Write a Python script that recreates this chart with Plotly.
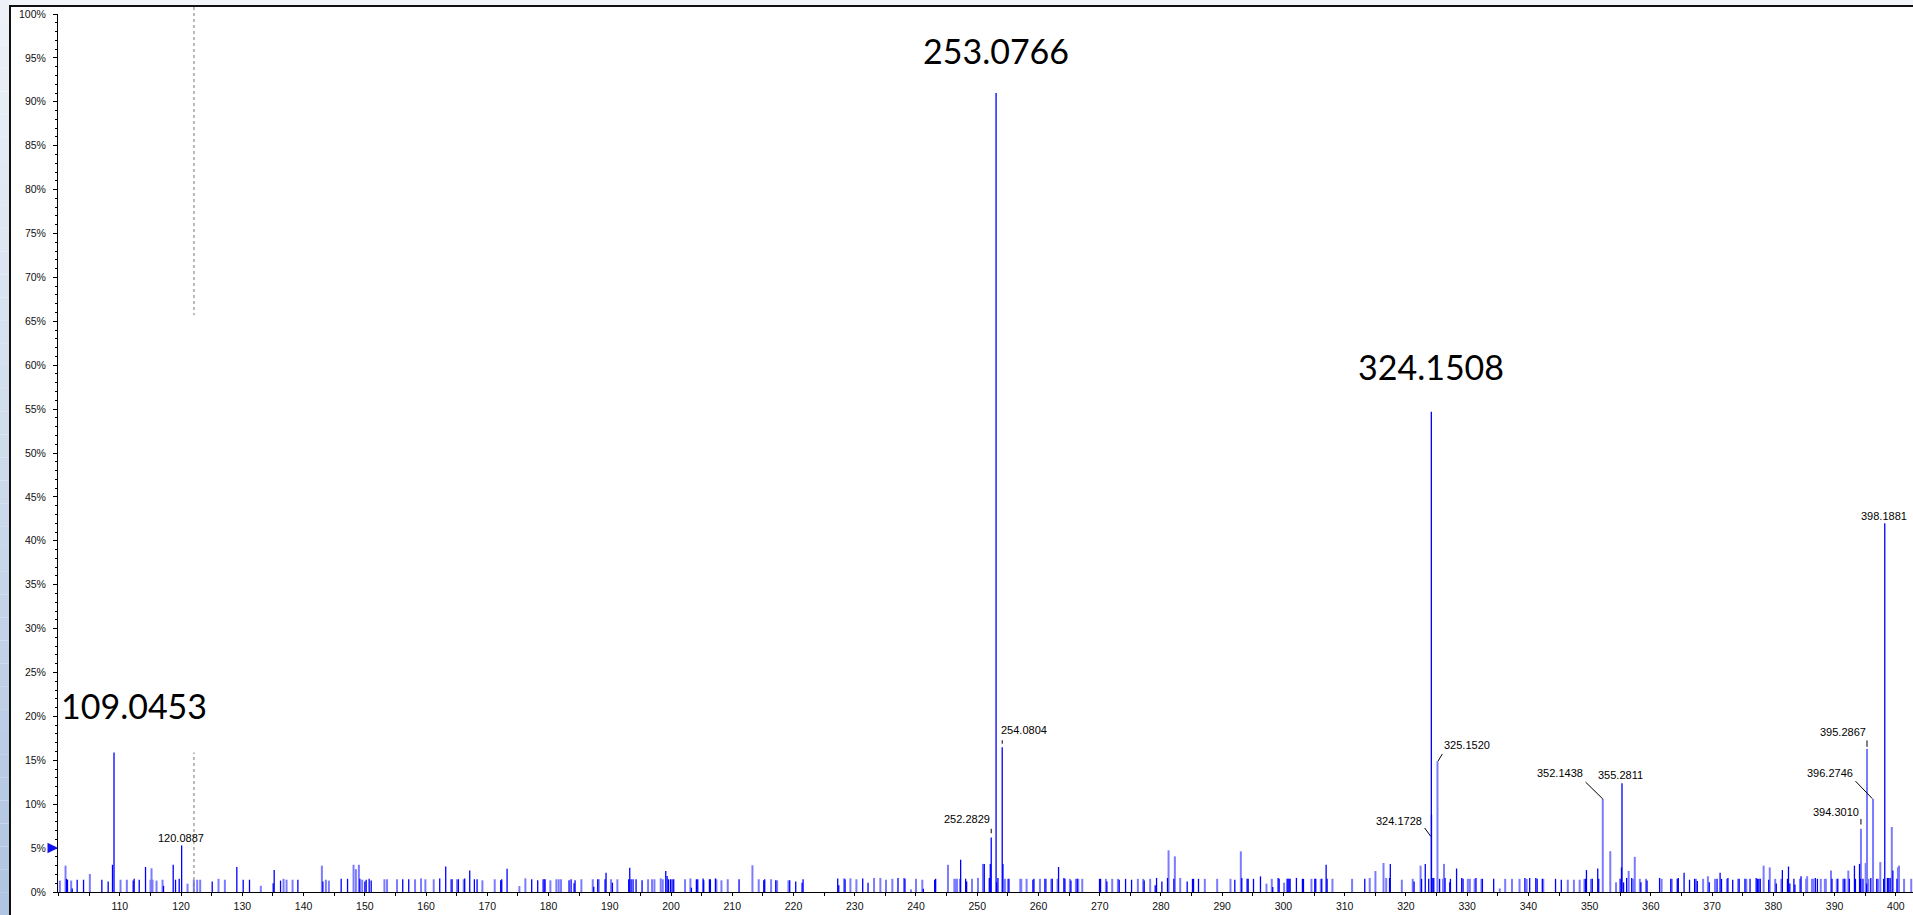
import plotly.graph_objects as go

# ---- centroid sticks: m/z and relative intensity (%) ----
dark_mz = [
    101.29, 101.45, 102.22, 103.03, 104.07, 107.06, 108.09, 108.80, 112.18, 112.34,
    113.16, 114.19, 117.13, 118.71, 119.09, 119.69, 125.08, 129.10, 130.14, 131.17,
    135.04, 135.20, 136.24, 139.07, 143.15, 146.14, 147.18, 149.19, 150.01, 150.22,
    150.71, 151.04, 156.19, 157.17, 162.23, 163.21, 164.25, 165.28, 166.31, 167.13,
    167.89, 168.33, 172.19, 172.36, 173.23, 177.25, 178.23, 179.27, 179.43, 183.35,
    183.68, 184.17, 184.33, 187.38, 188.03, 189.23, 189.39, 190.43, 193.09, 193.26,
    193.48, 193.80, 194.29, 195.27, 199.14, 199.36, 199.57, 199.90, 200.17, 200.44,
    203.33, 204.14, 204.36, 205.23, 205.34, 206.27, 206.43, 207.25, 211.11, 215.14,
    215.30, 217.10, 219.38, 220.36, 221.40, 221.56, 227.22, 227.39, 228.42, 231.30,
    232.17, 237.06, 238.20, 241.20, 243.05, 243.21, 247.29, 248.11, 248.27, 251.15,
    251.97, 252.13, 253.17, 253.38, 254.20, 255.18, 259.09, 259.26, 261.05, 262.25,
    263.28, 264.15, 264.32, 265.30, 266.33, 269.97, 270.14, 271.17, 273.18, 274.22,
    275.20, 277.26, 279.06, 279.28, 280.15, 281.07, 282.11, 284.28, 285.15, 285.32,
    286.13, 292.06, 293.20, 294.07, 294.24, 295.11, 296.25, 298.26, 299.13, 299.30,
    300.60, 300.76, 300.93, 301.09, 302.12, 303.10, 303.27, 305.12, 305.28, 306.26,
    306.97, 307.13, 313.28, 317.33, 317.45, 321.33, 322.55, 323.16, 323.72, 324.39,
    324.55, 325.50, 326.39, 327.16, 327.27, 328.27, 329.11, 329.33, 331.44, 332.49,
    334.33, 339.43, 340.21, 341.21, 341.43, 342.27, 344.43, 345.37, 349.32, 349.48,
    350.43, 351.32, 351.48, 354.98, 355.20, 355.54, 356.04, 356.87, 358.37, 359.37,
    361.42, 363.25, 364.31, 364.48, 365.42, 366.31, 367.14, 367.58, 369.53, 370.80,
    371.30, 371.53, 372.58, 373.36, 374.41, 375.36, 376.19, 377.19, 377.41, 377.63,
    377.86, 379.24, 380.47, 381.47, 382.30, 382.47, 382.69, 383.35, 383.52, 384.52,
    386.85, 387.19, 389.57, 390.52, 391.57, 392.40, 393.24, 393.40, 394.07, 394.24,
    394.63, 395.24, 395.91, 396.88, 398.01, 398.62, 398.84, 399.07, 399.51, 400.18,
]
dark_pct = [
    1.5, 1.4, 0.4, 1.4, 1.4, 1.4, 1.2, 3.1, 1.3, 1.5,
    1.4, 2.85, 0.7, 3.1, 1.4, 1.5, 1.2, 2.85, 1.4, 1.4,
    1.0, 2.5, 1.3, 1.4, 1.2, 1.5, 1.5, 1.5, 1.2, 1.4,
    1.5, 1.3, 1.45, 1.45, 1.55, 2.9, 1.45, 1.45, 1.55, 2.45,
    1.45, 1.45, 1.33, 1.45, 2.66, 1.45, 1.33, 1.45, 1.45, 1.33,
    1.45, 0.99, 1.33, 0.61, 1.45, 1.45, 2.2, 1.06, 1.45, 2.77,
    1.45, 1.45, 1.45, 1.33, 2.4, 1.82, 1.45, 1.45, 1.45, 1.45,
    0.49, 1.45, 1.45, 1.55, 1.33, 1.45, 1.45, 1.55, 1.45, 1.33,
    1.45, 1.33, 1.33, 1.21, 1.06, 1.45, 1.55, 0.76, 1.45, 1.55,
    1.06, 1.6, 1.5, 0.38, 1.4, 1.5, 3.68, 1.5, 1.2, 3.2,
    1.6, 3.2, 1.1, 1.6, 3.2, 1.5, 1.4, 1.5, 1.5, 1.5,
    2.85, 1.6, 1.5, 1.3, 1.5, 1.5, 1.5, 1.2, 1.4, 1.5,
    1.4, 1.3, 0.76, 1.6, 1.2, 1.6, 1.5, 1.2, 1.5, 1.5,
    1.5, 1.4, 1.6, 1.5, 1.5, 1.5, 1.78, 0.57, 1.6, 1.5,
    1.5, 1.5, 1.5, 1.5, 1.6, 1.5, 1.5, 1.5, 1.5, 1.5,
    3.11, 1.5, 1.5, 1.6, 3.2, 1.2, 1.5, 3.2, 1.5, 1.6,
    1.6, 1.5, 1.6, 1.1, 1.5, 2.67, 1.6, 1.5, 1.6, 1.5,
    1.5, 1.6, 1.6, 1.6, 1.5, 1.5, 1.5, 1.4, 1.5, 2.5,
    1.5, 2.67, 1.5, 1.5, 2.8, 1.1, 1.6, 1.6, 1.1, 1.3,
    1.6, 1.5, 1.5, 1.6, 2.2, 1.4, 1.5, 1.24, 1.1, 1.5,
    2.2, 1.5, 1.6, 1.4, 1.5, 1.5, 1.5, 1.6, 1.5, 1.5,
    1.5, 1.4, 0.97, 2.5, 1.5, 2.9, 0.97, 1.5, 0.85, 1.8,
    1.6, 1.5, 1.5, 1.5, 1.5, 1.5, 3.0, 1.5, 3.2, 1.5,
    1.5, 0.97, 1.6, 1.5, 1.5, 1.6, 1.6, 1.6, 2.44, 1.5,
]

light_mz = [
    100.20, 101.13, 102.05, 105.10, 110.11, 111.14, 115.01, 115.17, 115.33, 115.99,
    116.97, 121.05, 122.08, 122.63, 123.12, 126.11, 127.15, 133.02, 136.73, 137.22,
    138.20, 142.99, 143.64, 144.13, 148.16, 148.54, 149.03, 149.57, 153.20, 153.63,
    155.26, 158.20, 159.18, 159.89, 161.25, 164.08, 165.06, 166.15, 169.20, 171.21,
    175.24, 176.22, 179.10, 180.30, 181.28, 181.66, 182.04, 185.36, 187.22, 188.20,
    190.21, 191.24, 196.25, 196.90, 197.29, 198.32, 198.65, 202.29, 203.16, 207.41,
    208.23, 209.26, 213.29, 214.32, 216.34, 217.32, 219.17, 228.26, 229.29, 230.27,
    233.15, 234.18, 235.10, 236.14, 238.04, 239.18, 240.00, 241.03, 245.22, 246.26,
    246.47, 246.69, 247.18, 249.14, 250.12, 250.93, 254.52, 255.01, 257.03, 257.19,
    258.06, 260.24, 261.22, 262.09, 263.12, 265.13, 266.11, 266.49, 267.15, 271.01,
    272.04, 272.97, 276.23, 277.10, 278.24, 281.24, 282.27, 283.14, 287.16, 289.18,
    291.35, 293.04, 297.23, 298.10, 300.11, 304.57, 306.10, 308.00, 311.21, 314.09,
    315.02, 316.34, 316.78, 319.33, 321.11, 322.39, 326.05, 326.22, 330.11, 330.44,
    331.22, 332.33, 335.32, 336.21, 337.32, 338.55, 339.71, 342.43, 346.43, 347.43,
    348.37, 349.15, 350.21, 353.37, 354.31, 356.37, 357.15, 357.37, 358.20, 359.20,
    361.75, 363.42, 367.36, 368.53, 369.31, 370.47, 372.42, 374.25, 375.58, 378.41,
    379.41, 380.30, 381.30, 384.35, 385.35, 385.52, 386.30, 386.52, 387.74, 388.41,
    388.57, 389.41, 390.35, 391.40, 391.74, 392.24, 395.07, 395.52, 397.10, 397.46,
    399.34, 400.34, 400.51, 401.34, 402.51,
]
light_pct = [
    1.3, 3.0, 1.3, 2.05, 1.4, 1.4, 1.4, 2.7, 1.4, 1.3,
    1.4, 0.95, 1.4, 1.4, 1.4, 1.5, 1.4, 0.7, 1.5, 1.4,
    1.4, 3.0, 1.4, 1.3, 3.1, 2.6, 3.1, 1.4, 1.45, 1.45,
    1.45, 1.45, 1.55, 1.45, 1.45, 1.45, 1.45, 1.45, 1.33, 1.45,
    0.68, 1.55, 1.45, 1.33, 1.45, 1.45, 1.45, 1.45, 1.45, 1.45,
    1.45, 1.45, 1.45, 1.45, 1.45, 1.55, 1.45, 1.45, 1.55, 1.45,
    1.33, 1.45, 3.04, 1.45, 1.45, 1.33, 1.33, 1.55, 1.55, 1.45,
    1.6, 1.6, 1.4, 1.5, 1.6, 0.3, 1.5, 1.4, 3.1, 1.5,
    1.5, 1.5, 1.5, 1.5, 1.6, 3.2, 1.5, 1.5, 1.5, 1.5,
    1.5, 1.5, 1.5, 1.5, 1.5, 1.5, 1.5, 1.5, 1.5, 1.5,
    1.5, 1.5, 1.5, 1.5, 1.5, 4.75, 4.06, 1.6, 1.5, 1.5,
    1.5, 4.63, 0.95, 1.5, 1.06, 1.5, 1.5, 1.5, 1.5, 1.6,
    2.39, 3.3, 1.6, 1.4, 1.5, 3.0, 1.5, 3.2, 1.5, 1.5,
    1.5, 1.5, 0.4, 1.5, 1.5, 1.5, 1.5, 1.5, 1.4, 1.4,
    1.4, 1.5, 1.5, 4.65, 1.1, 2.4, 1.5, 4.0, 1.5, 1.5,
    1.5, 1.5, 1.5, 1.5, 1.8, 1.5, 1.5, 1.5, 1.5, 3.0,
    2.8, 1.5, 1.5, 1.5, 1.5, 1.8, 1.5, 1.5, 1.5, 1.5,
    1.5, 2.44, 1.5, 1.5, 1.5, 2.44, 3.3, 1.5, 1.5, 3.4,
    7.4, 2.8, 3.0, 1.5, 1.5,
]

# ---- annotated peaks ----
peak_mz = [109.0453, 120.0887, 252.2829, 253.0766, 254.0804, 324.1508, 324.1728,
           325.1520, 352.1438, 355.2811, 394.3010, 395.2867, 396.2746, 398.1881]
peak_pct = [15.9, 5.3, 6.2, 91.0, 16.5, 54.7, 8.8,
            14.9, 10.6, 12.4, 7.2, 16.3, 10.6, 42.0]
peak_light = [False, False, False, False, False, False, False,
              True, True, False, True, True, True, False]

x_ticks = list(range(110, 401, 10))

cursor_mz = 122.1

DARK = "#0000ff"
LIGHT = "#7b7bff"

W, H = 1913, 915
ML, MR, MT, MB = 58, 0, 14, 23
PW, PH = W - ML - MR, H - MT - MB


def px(x):
    return (x - ML) / PW


def py(y):
    return (H - MB - y) / PH


def sticks(mz, pct):
    xs, ys = [], []
    for m, p in zip(mz, pct):
        xs += [m, m, None]
        ys += [0, p, None]
    return xs, ys


fig = go.Figure()

lm = light_mz + [m for m, l in zip(peak_mz, peak_light) if l]
lp = light_pct + [p for p, l in zip(peak_pct, peak_light) if l]
dm = dark_mz + [m for m, l in zip(peak_mz, peak_light) if not l]
dp = dark_pct + [p for p, l in zip(peak_pct, peak_light) if not l]

x, y = sticks(lm, lp)
fig.add_trace(go.Scatter(x=x, y=y, mode="lines", line=dict(color=LIGHT, width=2),
                         hoverinfo="skip", showlegend=False))
x, y = sticks(dm, dp)
fig.add_trace(go.Scatter(x=x, y=y, mode="lines", line=dict(color=DARK, width=1.3),
                         hoverinfo="skip", showlegend=False))

pk = dict(zip(peak_mz, peak_pct))

annotations = []
small_font = dict(family="Liberation Sans, Arial, sans-serif", size=11, color="#000")


def label(text, dx, dy):
    m = float(text)
    annotations.append(dict(x=m, y=pk[m], xref="x", yref="y", text=text, showarrow=False,
                            xshift=dx, yshift=-dy, font=small_font))


def leader(m, hx, hy, tx, ty):
    annotations.append(dict(x=m, y=pk[m], xref="x", yref="y", text="",
                            showarrow=True, arrowhead=0, arrowwidth=1, arrowcolor="#000",
                            ax=tx - hx, ay=ty - hy, xshift=hx, yshift=-hy, standoff=0))


# labels placed relative to the apex of their peak (pixel offsets)
label("120.0887", -1, -7.5)
label("252.2829", -24, -19)
leader(252.2829, 0, -4.3, 0, -10.3)
label("254.0804", 22, -16.7)
leader(254.0804, 0, -3.4, 0, -8.4)
label("324.1728", -32, 6)
leader(324.1728, -0.6, 21.7, -8, 11.7)
label("325.1520", 29.3, -15.7)
leader(325.1520, 0.5, 0, 5.8, -8.7)
label("352.1438", -42.7, -26)
leader(352.1438, 0, 0, -18.7, -18.3)
label("355.2811", -1.4, -8)
label("394.3010", -24.5, -17)
leader(394.3010, 0, -4.3, 0, -11.3)
label("395.2867", -24.4, -16.7)
leader(395.2867, 0, -2, 0, -10)
label("396.2746", -43, -26)
leader(396.2746, -0.7, -0.3, -19, -19.3)
label("398.1881", -1, -7)

big_font = dict(family="Lato, Carlito, Calibri, sans-serif", size=34, color="#000")
annotations.append(dict(x=109.0453, y=21.2, text="109.0453", showarrow=False,
                        xshift=20, font=big_font))
annotations.append(dict(x=253.0766, y=95.9, text="253.0766", showarrow=False, font=big_font))
annotations.append(dict(x=324.1508, y=59.85, text="324.1508", showarrow=False, font=big_font))

# intensity marker arrow at 5 %
annotations.append(dict(x=0, y=5, xref="paper", yref="y", text="", showarrow=True,
                        arrowhead=2, arrowsize=0.7, arrowwidth=3, arrowcolor="#1010f0",
                        ax=-11, ay=0, standoff=0))

shapes = []
# window frame: gradient strip at the left and bar along the top
n = 40
for i in range(n):
    t = i / (n - 1)
    r = int(238 + (176 - 238) * t)
    g = int(242 + (197 - 242) * t)
    b = int(248 + (225 - 248) * t)
    shapes.append(dict(type="rect", xref="paper", yref="paper",
                       x0=px(0), x1=px(9), y0=py(H * (i + 1) / n), y1=py(H * i / n),
                       fillcolor=f"rgb({r},{g},{b})", line=dict(width=0), layer="below"))
shapes.append(dict(type="rect", xref="paper", yref="paper", x0=px(9), x1=px(W),
                   y0=py(5.5), y1=py(0), fillcolor="#f2f5f9", line=dict(width=0)))
shapes.append(dict(type="line", xref="paper", yref="paper", x0=px(9), x1=px(W),
                   y0=py(6), y1=py(6), line=dict(color="#111", width=2)))
shapes.append(dict(type="line", xref="paper", yref="paper", x0=px(10), x1=px(10),
                   y0=py(5), y1=py(H), line=dict(color="#111", width=2)))

# cursor line, interrupted behind the 109.0453 caption
shapes.append(dict(type="line", xref="x", yref="paper", x0=cursor_mz, x1=cursor_mz,
                   y0=py(7), y1=0.657, line=dict(color="#777", width=1, dash="dot")))
shapes.append(dict(type="line", xref="x", yref="y", x0=cursor_mz, x1=cursor_mz,
                   y0=0, y1=pk[109.0453], line=dict(color="#777", width=1, dash="dot")))

tick_font = dict(family="Liberation Sans, Arial, sans-serif", size=10.5, color="#111")

fig.update_layout(
    width=W, height=H,
    margin=dict(l=ML, r=MR, t=MT, b=MB, pad=0),
    paper_bgcolor="white", plot_bgcolor="white",
    annotations=annotations, shapes=shapes,
    xaxis=dict(range=[99.9, 402.8], showgrid=False, zeroline=False,
               showline=True, linecolor="#000", linewidth=1,
               tickmode="array", tickvals=x_ticks, ticktext=[str(v) for v in x_ticks],
               ticks="outside", ticklen=3, tickcolor="#000",
               minor=dict(ticks="outside", ticklen=3, dtick=5, tickcolor="#000"),
               tickfont=tick_font, ticklabelstandoff=1),
    yaxis=dict(range=[0, 100], showgrid=False, zeroline=False,
               showline=True, linecolor="#000", linewidth=1,
               ticks="outside", ticklen=4, tickcolor="#000", tick0=0, dtick=5,
               ticksuffix="%",
               minor=dict(ticks="outside", ticklen=2, dtick=1, tickcolor="#000"),
               tickfont=tick_font, ticklabelstandoff=5),
)

fig.write_html("out.html")
